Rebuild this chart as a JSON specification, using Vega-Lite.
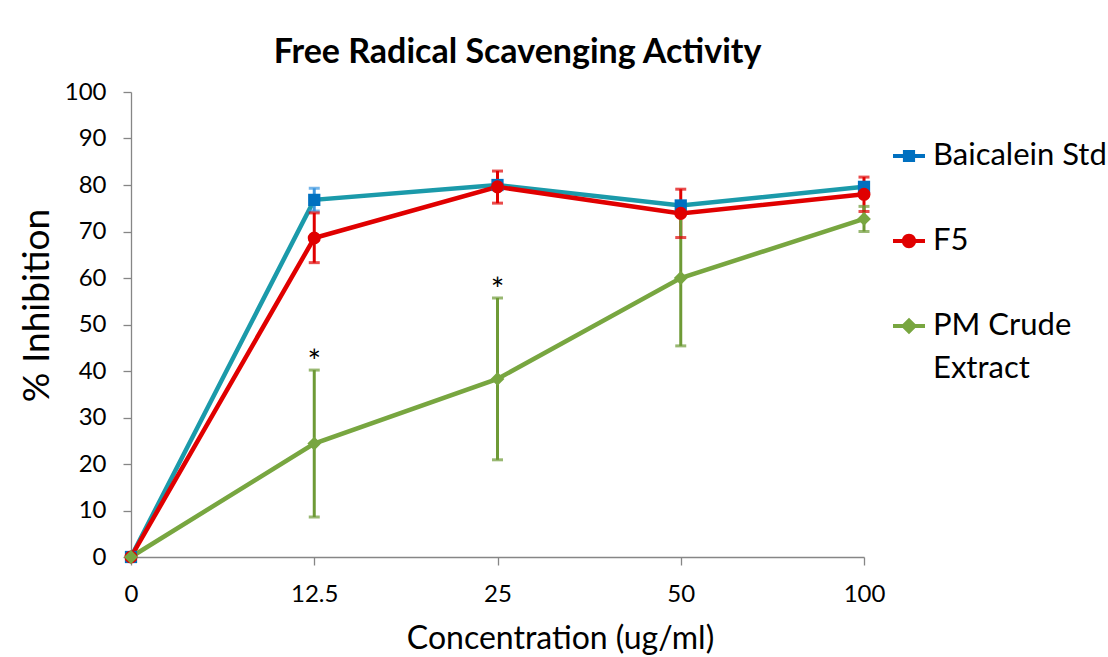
{
  "$schema": "https://vega.github.io/schema/vega-lite/v6.json",
  "autosize": "none",
  "width": 733,
  "height": 465,
  "padding": {"left": 131, "top": 92, "right": 244, "bottom": 100},
  "background": "white",
  "title": {"text": "Free Radical Scavenging Activity", "font": "Lato", "fontSize": 34, "fontWeight": "bold", "color": "black", "anchor": "middle", "frame": "group", "dx": 20, "offset": 10},
  "config": {
    "view": {"stroke": null},
    "style": {"guide-label": {"lineHeight": 43}},
    "axis": {"grid": false, "domainColor": "#868686", "tickColor": "#868686", "domainWidth": 1.3, "tickWidth": 1.3, "labelFont": "Lato", "labelFontSize": 24, "labelColor": "black", "titleFont": "Lato", "titleFontWeight": "normal", "titleColor": "black"},
    "legend": {"labelFont": "Lato", "labelFontSize": 31, "labelColor": "black"}
  },
  "data": {"values": [
    {"series": "Baicalein Std", "conc": "0", "value": 0, "lo": 0, "hi": 0},
    {"series": "Baicalein Std", "conc": "12.5", "value": 76.8, "lo": 74.4, "hi": 79.3},
    {"series": "Baicalein Std", "conc": "25", "value": 80.0, "lo": 79.2, "hi": 80.8},
    {"series": "Baicalein Std", "conc": "50", "value": 75.6, "lo": 74.9, "hi": 76.3},
    {"series": "Baicalein Std", "conc": "100", "value": 79.6, "lo": 79.0, "hi": 80.2},
    {"series": "F5", "conc": "0", "value": 0, "lo": 0, "hi": 0},
    {"series": "F5", "conc": "12.5", "value": 68.6, "lo": 63.3, "hi": 74.0},
    {"series": "F5", "conc": "25", "value": 79.6, "lo": 76.1, "hi": 83.0},
    {"series": "F5", "conc": "50", "value": 73.9, "lo": 68.7, "hi": 79.1},
    {"series": "F5", "conc": "100", "value": 78.0, "lo": 74.3, "hi": 81.7},
    {"series": "PM Crude Extract", "conc": "0", "value": 0, "lo": 0, "hi": 0},
    {"series": "PM Crude Extract", "conc": "12.5", "value": 24.4, "lo": 8.6, "hi": 40.2, "sig": "*"},
    {"series": "PM Crude Extract", "conc": "25", "value": 38.3, "lo": 20.9, "hi": 55.7, "sig": "*"},
    {"series": "PM Crude Extract", "conc": "50", "value": 60.0, "lo": 45.4, "hi": 74.6},
    {"series": "PM Crude Extract", "conc": "100", "value": 72.7, "lo": 70.0, "hi": 75.4}
  ]},
  "encoding": {
    "x": {"field": "conc", "type": "ordinal", "sort": ["0", "12.5", "25", "50", "100"],
      "scale": {"type": "point", "padding": 0},
      "axis": {"labelAngle": 0, "tickSize": 8, "labelPadding": 17, "title": "Concentration (ug/ml)", "titleFontSize": 32, "titleX": 429, "titleY": 81, "titleBaseline": "middle", "titleAlign": "center"}}
  },
  "layer": [
    {
      "mark": {"type": "line", "strokeWidth": 4.5},
      "encoding": {
        "y": {"field": "value", "type": "quantitative", "scale": {"domain": [0, 100]},
          "axis": {"values": [0, 10, 20, 30, 40, 50, 60, 70, 80, 90, 100], "tickSize": 8, "labelPadding": 17, "title": "% Inhibition", "titleFontSize": 37, "titlePadding": 8, "titleY": 213, "titleAlign": "center"}},
        "color": {"field": "series", "type": "nominal", "legend": null,
          "scale": {"domain": ["Baicalein Std", "F5", "PM Crude Extract"], "range": ["#1B9AAA", "#E00000", "#78A640"]}}
      }
    },
    {
      "mark": {"type": "rule", "strokeWidth": 3},
      "encoding": {
        "y": {"field": "lo", "type": "quantitative"},
        "y2": {"field": "hi"},
        "color": {"field": "series", "type": "nominal", "legend": null,
          "scale": {"domain": ["Baicalein Std", "F5", "PM Crude Extract"], "range": ["#3A96E0", "#E00000", "#6E9A36"]}}
      }
    },
    {
      "mark": {"type": "tick", "thickness": 3, "size": 11},
      "encoding": {
        "y": {"field": "lo", "type": "quantitative"},
        "color": {"field": "series", "type": "nominal", "legend": null,
          "scale": {"domain": ["Baicalein Std", "F5", "PM Crude Extract"], "range": ["#3A96E0", "#E00000", "#6E9A36"]}}
      }
    },
    {
      "mark": {"type": "tick", "thickness": 3, "size": 11},
      "encoding": {
        "y": {"field": "hi", "type": "quantitative"},
        "color": {"field": "series", "type": "nominal", "legend": null,
          "scale": {"domain": ["Baicalein Std", "F5", "PM Crude Extract"], "range": ["#3A96E0", "#E00000", "#6E9A36"]}}
      }
    },
    {
      "mark": {"type": "point", "filled": true, "opacity": 1},
      "encoding": {
        "y": {"field": "value", "type": "quantitative"},
        "color": {"field": "series", "type": "nominal", "legend": null,
          "scale": {"domain": ["Baicalein Std", "F5", "PM Crude Extract"], "range": ["#0070C0", "#E00000", "#78A640"]}},
        "shape": {"field": "series", "type": "nominal", "legend": null,
          "scale": {"domain": ["Baicalein Std", "F5", "PM Crude Extract"], "range": ["square", "circle", "diamond"]}},
        "size": {"field": "series", "type": "nominal", "legend": null,
          "scale": {"domain": ["Baicalein Std", "F5", "PM Crude Extract"], "range": [150, 190, 300]}}
      }
    },
    {
      "transform": [{"filter": "datum.conc == 'none'"}],
      "mark": {"type": "point", "filled": true, "opacity": 1},
      "encoding": {
        "y": {"field": "value", "type": "quantitative"},
        "color": {"field": "series", "type": "nominal",
          "scale": {"domain": ["Baicalein Std", "F5", "PM Crude Extract"], "range": ["#0070C0", "#E00000", "#78A640"]},
          "legend": {"title": null, "orient": "none", "legendX": 762, "legendY": 48, "rowPadding": 54, "labelOffset": 8, "labelLimit": 400, "symbolSize": 1024, "symbolStrokeWidth": 0,
            "labelExpr": "datum.label == 'PM Crude Extract' ? ['PM Crude', 'Extract'] : datum.label"}},
        "shape": {"field": "series", "type": "nominal",
          "scale": {"domain": ["Baicalein Std", "F5", "PM Crude Extract"], "range": ["M-1,-0.13H1V0.13H-1Z M-0.38,-0.38H0.38V0.38H-0.38Z", "M-1,-0.13H1V0.13H-1Z M-0.45,0A0.45,0.45 0 1,1 0.45,0A0.45,0.45 0 1,1 -0.45,0Z", "M-1,-0.13H1V0.13H-1Z M-0.52,0L0,-0.52L0.52,0L0,0.52Z"]}}
      }
    },
    {
      "transform": [{"filter": "datum.sig == '*'"}],
      "mark": {"type": "text", "font": "Lato", "fontSize": 32, "color": "black", "baseline": "bottom", "dy": 10},
      "encoding": {
        "y": {"field": "hi", "type": "quantitative"},
        "text": {"field": "sig"}
      }
    }
  ],
  "resolve": {"scale": {"color": "independent", "shape": "independent", "size": "independent"}}
}
